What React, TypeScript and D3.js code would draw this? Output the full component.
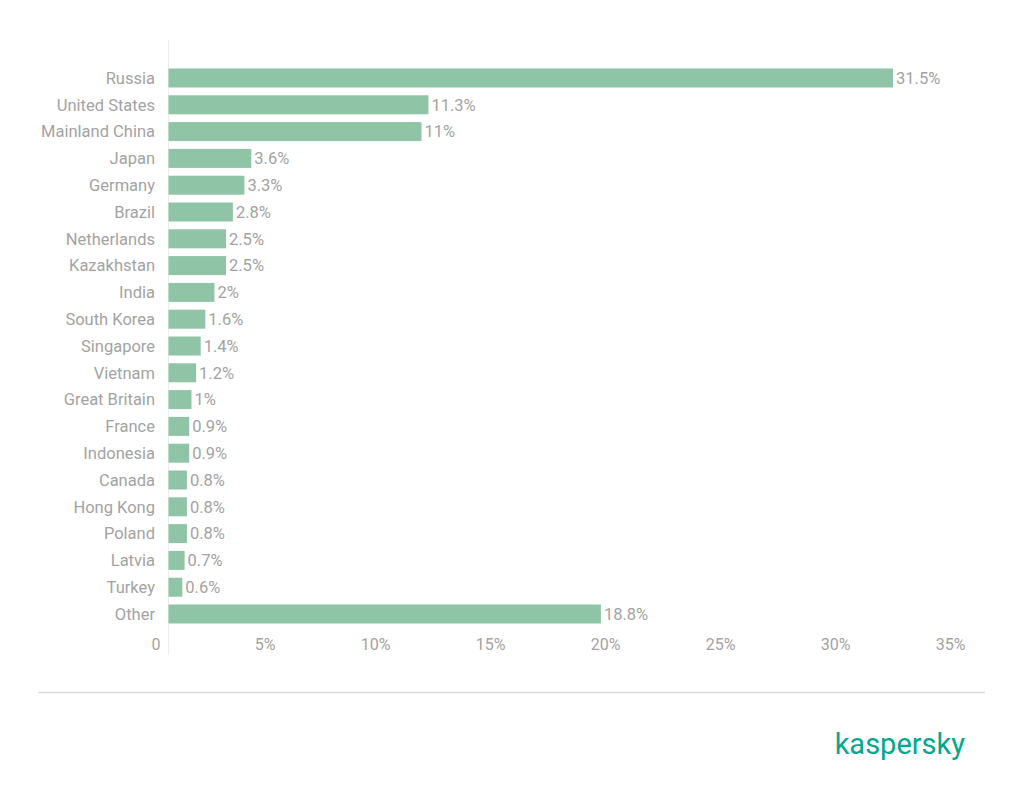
import React from 'react'
import * as d3 from 'd3'

const countries = [
    'Russia', 'United States', 'Mainland China', 'Japan', 'Germany', 'Brazil', 'Netherlands',
    'Kazakhstan', 'India', 'South Korea', 'Singapore', 'Vietnam', 'Great Britain', 'France',
    'Indonesia', 'Canada', 'Hong Kong', 'Poland', 'Latvia', 'Turkey', 'Other',
]
const shares = [31.5, 11.3, 11, 3.6, 3.3, 2.8, 2.5, 2.5, 2, 1.6, 1.4, 1.2, 1, 0.9, 0.9, 0.8, 0.8, 0.8, 0.7, 0.6, 18.8]
const xTicks = [0, 5, 10, 15, 20, 25, 30, 35]

const WIDTH = 1024
const HEIGHT = 797
const TEXT = '#a3a3a3'
const BAR = '#8fc4a6'
const FONT = 'Roboto, "Noto Sans", sans-serif'

const App: React.FC = () => {
    const xScale = d3.scaleLinear().domain([0, 35]).range([168.5, 973.5])
    const yScale = d3.scalePoint<string>().domain(countries).range([78, 614])
    const barH = 19

    return (
        <svg width={WIDTH} height={HEIGHT} style={{ position: 'absolute', left: 0, top: 0 }} fontFamily={FONT}>
            <rect width={WIDTH} height={HEIGHT} fill="#fff" />
            {/* y axis line */}
            <line x1={xScale(0)} x2={xScale(0)} y1={40} y2={655} stroke="#ececec" strokeWidth={1} />

            {countries.map((c, i) => {
                const cy = yScale(c)!
                return (
                    <g key={c}>
                        <rect x={xScale(0)} y={cy - barH / 2} width={xScale(shares[i]) - xScale(0)} height={barH} fill={BAR} />
                        <text x={155} y={cy} dy="0.35em" textAnchor="end" fontSize={16.5} fill={TEXT}>{c}</text>
                        <text x={xScale(shares[i]) + 3} y={cy} dy="0.35em" fontSize={16.5} fill={TEXT}>{shares[i]}%</text>
                    </g>
                )
            })}

            {xTicks.map((t) => (
                <text key={t} x={xScale(t) - 8} y={644} dy="0.35em" textAnchor="end" fontSize={16} fill={TEXT}>
                    {t === 0 ? '0' : `${t}%`}
                </text>
            ))}

            <line x1={38} x2={985} y1={692.5} y2={692.5} stroke="#dcdcdc" strokeWidth={1.5} />

            <text x={965} y={744} dy="0.35em" textAnchor="end" fontSize={29} fontWeight={400} fill="#00a88e" letterSpacing={0}>
                kaspersky
            </text>
        </svg>
    )
}

export default App
